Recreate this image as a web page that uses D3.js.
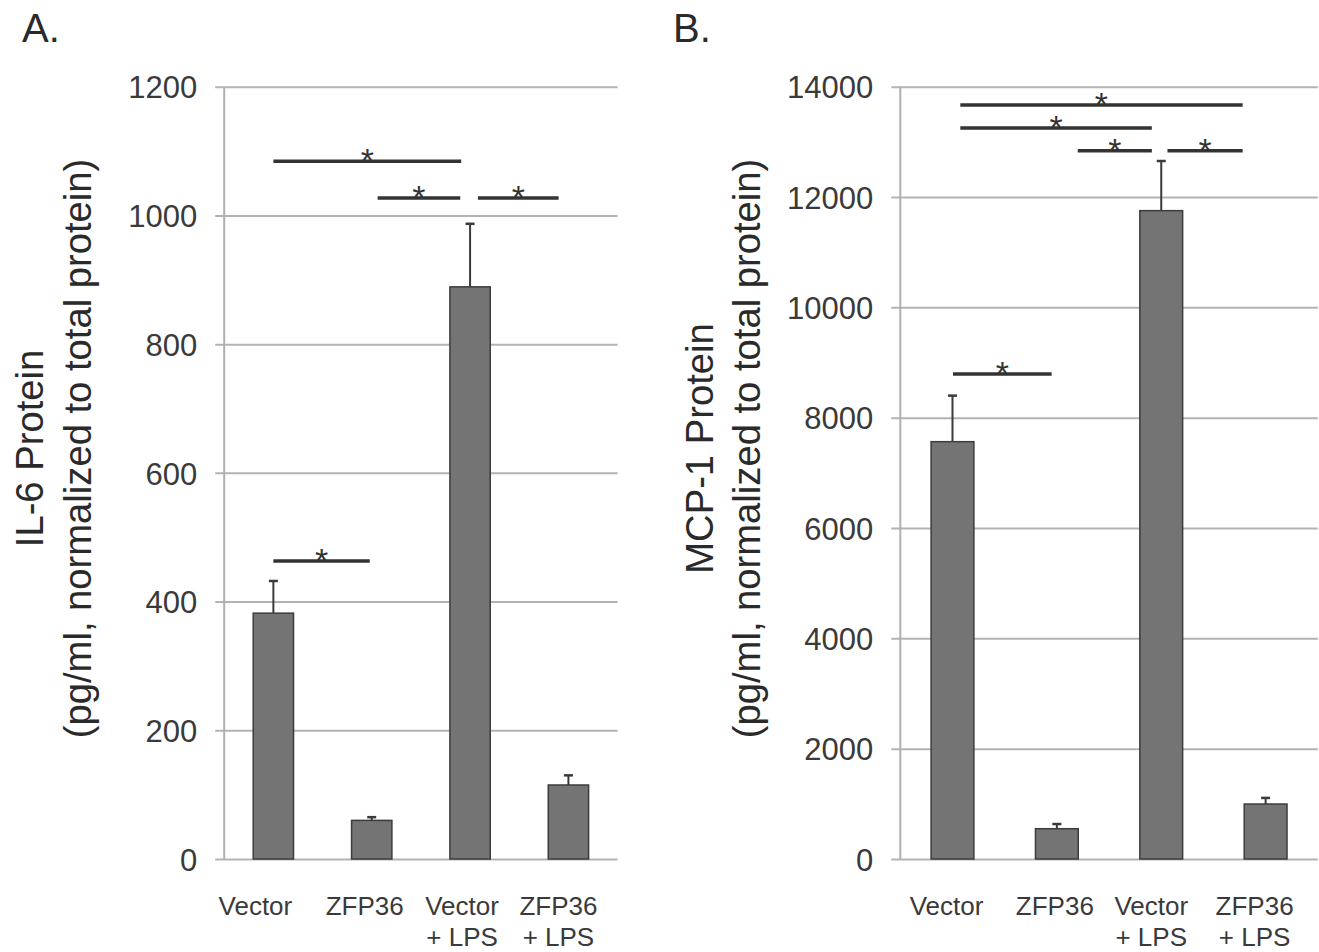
<!DOCTYPE html>
<html>
<head>
<meta charset="utf-8">
<script src="https://cdn.jsdelivr.net/npm/d3@7"></script>
<style>
  html, body { margin: 0; padding: 0; background: #fff; }
  svg { display: block; font-family: "Liberation Sans", Arial, sans-serif; }
</style>
</head>
<body>
<svg id="chart" width="1319" height="952"></svg>
<script>
// ---- data ----
const categories = [["Vector"], ["ZFP36"], ["Vector", "+ LPS"], ["ZFP36", "+ LPS"]];

const il6Values = [382, 60, 889, 115];
const il6Errors = [50, 5, 98, 15];
const il6Ticks = [0, 200, 400, 600, 800, 1000, 1200];
const il6Sig = [
  { from: 0, to: 1.91, value: 1084 },
  { from: 1.06, to: 1.9, value: 1027 },
  { from: 2.08, to: 2.9, value: 1027 },
  { from: 0, to: 0.98, value: 463 }
];

const mcp1Values = [7565, 549, 11753, 997];
const mcp1Errors = [835, 85, 900, 110];
const mcp1Ticks = [0, 2000, 4000, 6000, 8000, 10000, 12000, 14000];
const mcp1Sig = [
  { from: 0.075, to: 2.78, value: 13669 },
  { from: 0.075, to: 1.91, value: 13252 },
  { from: 1.2, to: 1.91, value: 12841 },
  { from: 2.06, to: 2.78, value: 12841 },
  { from: 0.005, to: 0.95, value: 8793 }
];

// ---- drawing ----
const svg = d3.select("#chart");

function panel(opts) {
  const { letter, letterX, x0, x1, yMax, ticks, values, errors, sig, label1, labelX1, labelX2, labelShift } = opts;
  const yTop = 86.7, yBot = 859, tickLen = 9;
  const g = svg.append("g");

  const x = d3.scaleBand()
    .domain(d3.range(categories.length))
    .range([x0, x1])
    .paddingInner(0.59)
    .paddingOuter(0.295);
  const y = d3.scaleLinear().domain([0, yMax]).range([yBot, yTop]);
  const xi = d3.scaleLinear()
    .domain([0, categories.length - 1])
    .range([x(0) + x.bandwidth() / 2, x(categories.length - 1) + x.bandwidth() / 2]);

  // gridlines + tick labels via axis
  const axis = d3.axisLeft(y)
    .tickValues(ticks)
    .tickSize(0)
    .tickFormat(d3.format("d"));
  const ag = g.append("g")
    .attr("transform", `translate(${x1},0)`)
    .call(axis);
  ag.select(".domain").remove();
  ag.selectAll(".tick line")
    .attr("x1", 0).attr("x2", -(x1 - x0) - tickLen)
    .attr("stroke", "#b3b3b3")
    .attr("stroke-width", 2);
  ag.selectAll(".tick text")
    .attr("x", -(x1 - x0) - 27)
    .attr("dy", "0.36em")
    .attr("fill", "#3a3a3a")
    .attr("font-size", 31)
    .attr("font-family", "Liberation Sans, Arial, sans-serif")
    .attr("text-anchor", "end");

  // vertical axis line
  g.append("line")
    .attr("x1", x0).attr("x2", x0)
    .attr("y1", yTop).attr("y2", yBot)
    .attr("stroke", "#b0b0b0").attr("stroke-width", 2);

  // bars
  g.selectAll("rect.bar").data(values).enter().append("rect")
    .attr("class", "bar")
    .attr("x", (d, i) => x(i))
    .attr("width", x.bandwidth())
    .attr("y", d => y(d))
    .attr("height", d => yBot - y(d))
    .attr("fill", "#747474")
    .attr("stroke", "#3c3c3c")
    .attr("stroke-width", 1.5);

  // error bars (upper only)
  const eg = g.append("g").attr("stroke", "#3a3a3a").attr("stroke-width", 2);
  values.forEach((v, i) => {
    const cx = xi(i);
    eg.append("line").attr("x1", cx).attr("x2", cx).attr("y1", y(v)).attr("y2", y(v + errors[i]));
    eg.append("line").attr("x1", cx - 4.5).attr("x2", cx + 4.5)
      .attr("y1", y(v + errors[i])).attr("y2", y(v + errors[i])).attr("stroke-width", 2.5);
  });

  // significance brackets
  sig.forEach(s => {
    g.append("line")
      .attr("x1", xi(s.from)).attr("x2", xi(s.to))
      .attr("y1", y(s.value)).attr("y2", y(s.value))
      .attr("stroke", "#333").attr("stroke-width", 3.5);
    g.append("text")
      .attr("x", (xi(s.from) + xi(s.to)) / 2)
      .attr("y", y(s.value) + 11)
      .attr("text-anchor", "middle")
      .attr("font-size", 34)
      .attr("fill", "#333")
      .text("*");
  });

  // category labels
  categories.forEach((lines, i) => {
    const t = g.append("text")
      .attr("text-anchor", "middle")
      .attr("font-size", 26)
      .attr("fill", "#3a3a3a");
    lines.forEach((ln, k) => {
      t.append("tspan").attr("x", xi(i) + labelShift[i]).attr("y", 915 + k * 30.5).text(ln);
    });
  });

  // y-axis title (two lines)
  const cy = 448.5;
  g.append("text")
    .attr("transform", `translate(${labelX1},${cy}) rotate(-90)`)
    .attr("text-anchor", "middle")
    .attr("font-size", 38.2)
    .attr("fill", "#2a2a2a")
    .text(label1);
  g.append("text")
    .attr("transform", `translate(${labelX2},${cy}) rotate(-90)`)
    .attr("text-anchor", "middle")
    .attr("font-size", 38.2)
    .attr("fill", "#2a2a2a")
    .text("(pg/ml, normalized to total protein)");

  // panel letter
  g.append("text")
    .attr("x", letterX).attr("y", 42)
    .attr("font-size", 40)
    .attr("fill", "#2a2a2a")
    .text(letter);
}

panel({
  letter: "A.", letterX: 22, x0: 224.2, x1: 617.6, yMax: 1200,
  ticks: il6Ticks, values: il6Values, errors: il6Errors, sig: il6Sig,
  label1: "IL-6 Protein", labelX1: 42.5, labelX2: 91, labelShift: [-18, -7, -8, -10]
});
panel({
  letter: "B.", letterX: 673, x0: 900.3, x1: 1317.8, yMax: 14000,
  ticks: mcp1Ticks, values: mcp1Values, errors: mcp1Errors, sig: mcp1Sig,
  label1: "MCP-1 Protein", labelX1: 713, labelX2: 759.5, labelShift: [-6, -2, -10, -11]
});
</script>
</body>
</html>
